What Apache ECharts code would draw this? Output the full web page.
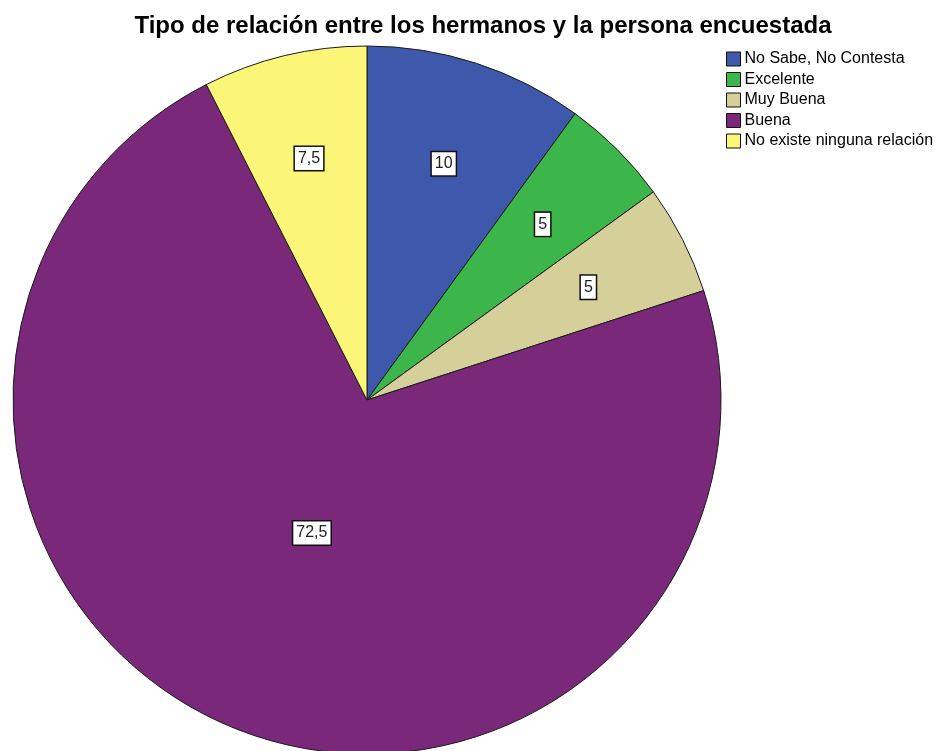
<!DOCTYPE html>
<html>
<head>
<meta charset="utf-8">
<script src="https://cdn.jsdelivr.net/npm/echarts@6/dist/echarts.min.js"></script>
<style>
  html, body { margin: 0; padding: 0; background: #fff; }
  #chart { width: 945px; height: 751px; }
</style>
</head>
<body>
<div id="chart"></div>
<script>
  // data
  var categories = ['No Sabe, No Contesta', 'Excelente', 'Muy Buena', 'Buena', 'No existe ninguna relación']
  var values = [10, 5, 5, 72.5, 7.5]
  var colors = ['#3e58ac', '#3cb64a', '#d5cf99', '#79287a', '#fcf678']

  var cx = 367
  var cy = 400
  var radius = 354

  var chart = echarts.init(document.getElementById('chart'))
  chart.setOption({
    animation: false,
    title: {
      text: 'Tipo de relación entre los hermanos y la persona encuestada',
      left: 478,
      textAlign: 'center',
      top: 9,
      textStyle: {
        fontFamily: 'Liberation Sans, Arial',
        fontSize: 24,
        fontWeight: 'bold',
        color: '#000'
      }
    },
    legend: {
      orient: 'vertical',
      left: 726,
      top: 51,
      padding: 0,
      itemWidth: 14,
      itemHeight: 14,
      itemGap: 4.5,
      icon: 'rect',
      selectedMode: false,
      itemStyle: {
        borderColor: '#111',
        borderWidth: 1
      },
      textStyle: {
        fontFamily: 'Liberation Sans, Arial',
        fontSize: 16,
        color: '#000',
        padding: [0, 0, 0, -1]
      },
      data: categories
    },
    series: [{
      type: 'pie',
      center: [cx, cy],
      radius: [0, radius],
      startAngle: 90,
      clockwise: true,
      silent: true,
      itemStyle: {
        borderColor: '#1a1a1a',
        borderWidth: 1
      },
      label: {
        show: true,
        position: 'inside',
        formatter: function (p) {
          return String(p.value).replace('.', ',')
        },
        fontFamily: 'Liberation Sans, Arial',
        fontSize: 16,
        lineHeight: 16,
        color: '#222',
        backgroundColor: '#fff',
        borderColor: '#111',
        borderWidth: 1.5,
        padding: [4, 3, 3, 3]
      },
      labelLine: { show: false },
      // push small slice labels further out, big slice label closer in
      labelLayout: function (params) {
        var r = params.labelRect
        var lx = r.x + r.width / 2
        var ly = r.y + r.height / 2
        var f = values[params.dataIndex] > 50 ? 0.8 : 1.38
        return {
          x: cx + (lx - cx) * f,
          y: cy + (ly - cy) * f
        }
      },
      data: categories.map(function (name, i) {
        return { name: name, value: values[i], itemStyle: { color: colors[i] } }
      })
    }]
  })
</script>
</body>
</html>
